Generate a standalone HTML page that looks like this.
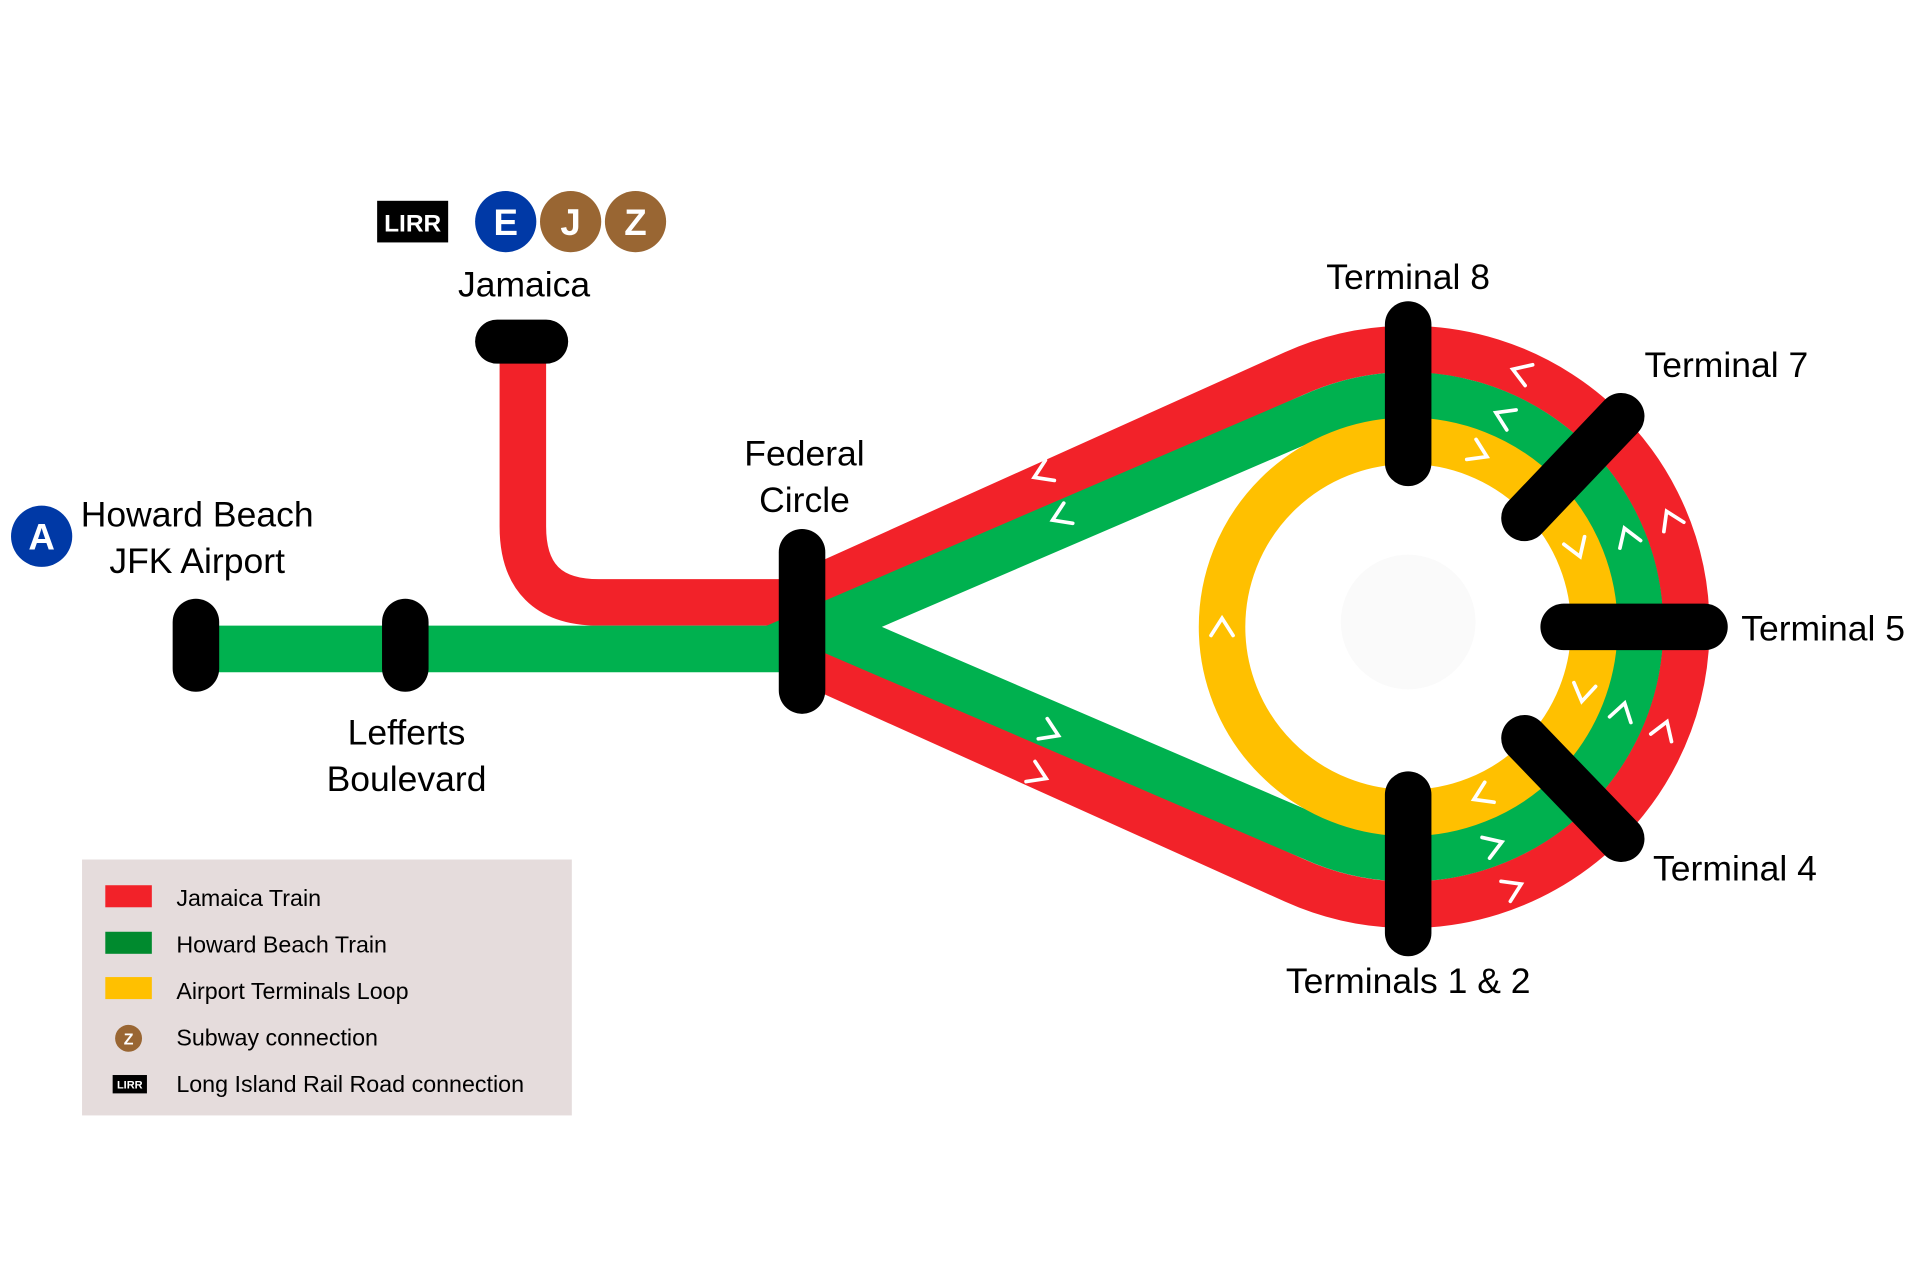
<!DOCTYPE html>
<html><head><meta charset="utf-8"><style>
html,body{margin:0;padding:0;background:#fff;}
svg{display:block;}
text{font-family:"Liberation Sans",sans-serif;}
</style></head><body>
<svg width="1920" height="1285" viewBox="0 0 1568 1049.5" preserveAspectRatio="none" xmlns="http://www.w3.org/2000/svg">
<rect width="1568" height="1050" fill="#fff"/>
<circle cx="1150" cy="508" r="55" fill="#fafafa"/>
<path d="M427 280 L427 430 Q427 492 489 492 L660 492" fill="none" stroke="#f22229" stroke-width="38" stroke-linejoin="round"/>
<path d="M655 486 L1057 305 A227 227 0 1 1 1057 719 L655 538" fill="none" stroke="#f22229" stroke-width="38" stroke-linejoin="round"/>
<path d="M160 530 L660 530" stroke="#00b14f" stroke-width="38"/>
<path d="M672 512 L1072 340 A189 189 0 1 1 1072 684 Z" fill="none" stroke="#00b14f" stroke-width="38" stroke-linejoin="miter"/>
<circle cx="1150" cy="512" r="152" fill="none" stroke="#ffc000" stroke-width="38"/>
<g fill="none" stroke="#fff" stroke-width="3" stroke-linecap="round" stroke-linejoin="miter">
<path d="M7 -9 L-7 0 L7 9" transform="translate(851,387) rotate(-24)"/>
<path d="M7 -9 L-7 0 L7 9" transform="translate(866,422) rotate(-24)"/>
<path d="M-7 -9 L7 0 L-7 9" transform="translate(858,598) rotate(24)"/>
<path d="M-7 -9 L7 0 L-7 9" transform="translate(848,633) rotate(24)"/>
<path d="M7 -9 L-7 0 L7 9" transform="translate(1242,304) rotate(20)"/>
<path d="M7 -9 L-7 0 L7 9" transform="translate(1228,340) rotate(25)"/>
<path d="M-7 -9 L7 0 L-7 9" transform="translate(1208,370) rotate(25)"/>
<path d="M-7 -9 L7 0 L-7 9" transform="translate(1288,448) rotate(70)"/>
<path d="M-7 -9 L7 0 L-7 9" transform="translate(1329,438) rotate(-110)"/>
<path d="M-7 -9 L7 0 L-7 9" transform="translate(1364,424) rotate(-115)"/>
<path d="M-7 -9 L7 0 L-7 9" transform="translate(998,512) rotate(-90)"/>
<path d="M-7 -9 L7 0 L-7 9" transform="translate(1293,566) rotate(100)"/>
<path d="M-7 -9 L7 0 L-7 9" transform="translate(1325,581) rotate(-75)"/>
<path d="M-7 -9 L7 0 L-7 9" transform="translate(1359,596) rotate(-70)"/>
<path d="M7 -9 L-7 0 L7 9" transform="translate(1210,650) rotate(-25)"/>
<path d="M-7 -9 L7 0 L-7 9" transform="translate(1220,690) rotate(-20)"/>
<path d="M-7 -9 L7 0 L-7 9" transform="translate(1236,725) rotate(-25)"/>
</g>
<g stroke="#000" stroke-width="38" stroke-linecap="round">
<line x1="160" y1="508" x2="160" y2="546"/>
<line x1="331" y1="508" x2="331" y2="546"/>
<line x1="406" y1="279" x2="446" y2="279" stroke-width="36"/>
<line x1="655" y1="451" x2="655" y2="564"/>
<line x1="1150" y1="265" x2="1150" y2="378"/>
<line x1="1150" y1="649" x2="1150" y2="762"/>
<line x1="1277" y1="512" x2="1392" y2="512"/>
<line x1="1245" y1="423" x2="1324" y2="340"/>
<line x1="1245" y1="603" x2="1324" y2="685"/>
</g>
<g font-size="29" fill="#000">
<text x="428" y="242" text-anchor="middle">Jamaica</text>
<text x="657" y="380" text-anchor="middle">Federal</text>
<text x="657" y="418" text-anchor="middle">Circle</text>
<text x="161" y="430" text-anchor="middle">Howard Beach</text>
<text x="161" y="468" text-anchor="middle">JFK Airport</text>
<text x="332" y="608" text-anchor="middle">Lefferts</text>
<text x="332" y="646" text-anchor="middle">Boulevard</text>
<text x="1150" y="236" text-anchor="middle">Terminal 8</text>
<text x="1343" y="308">Terminal 7</text>
<text x="1422" y="523">Terminal 5</text>
<text x="1350" y="719">Terminal 4</text>
<text x="1150" y="811" text-anchor="middle">Terminals 1 &amp; 2</text>
</g>
<rect x="308" y="164" width="58" height="34" fill="#000"/>
<text x="337" y="189" font-size="20" fill="#fff" text-anchor="middle" font-weight="bold">LIRR</text>
<g font-weight="bold" font-size="30" fill="#fff" text-anchor="middle">
<circle cx="413" cy="181" r="25" fill="#0039a6"/><text x="413" y="192">E</text>
<circle cx="466" cy="181" r="25" fill="#996633"/><text x="466" y="192">J</text>
<circle cx="519" cy="181" r="25" fill="#996633"/><text x="519" y="192">Z</text>
<circle cx="34" cy="438" r="25" fill="#0039a6"/><text x="34" y="449">A</text>
</g>
<rect x="67" y="702" width="400" height="209" fill="#e5dcdc"/>
<rect x="86" y="723" width="38" height="18" fill="#f22229"/>
<rect x="86" y="761" width="38" height="18" fill="#008a2e"/>
<rect x="86" y="798" width="38" height="18" fill="#ffc000"/>
<circle cx="105" cy="848" r="11" fill="#996633"/>
<text x="105" y="853" font-size="13" font-weight="bold" fill="#fff" text-anchor="middle">Z</text>
<rect x="92" y="878" width="28" height="15" fill="#000"/>
<text x="106" y="889" font-size="9" font-weight="bold" fill="#fff" text-anchor="middle">LIRR</text>
<g font-size="19" fill="#000">
<text x="144" y="740">Jamaica Train</text>
<text x="144" y="778">Howard Beach Train</text>
<text x="144" y="816">Airport Terminals Loop</text>
<text x="144" y="854">Subway connection</text>
<text x="144" y="892">Long Island Rail Road connection</text>
</g>
</svg>
</body></html>
